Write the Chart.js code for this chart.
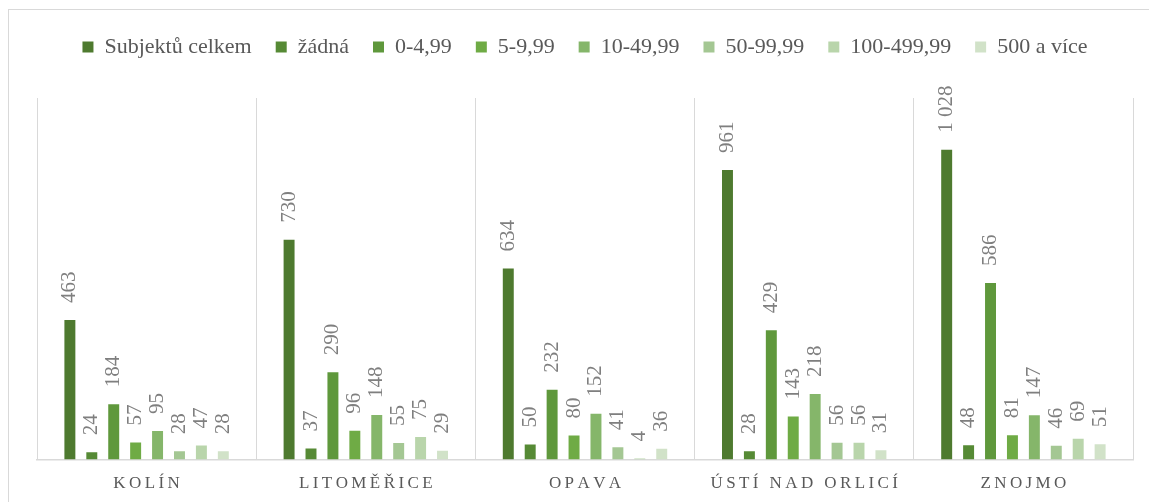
<!DOCTYPE html>
<html>
<head>
<meta charset="utf-8">
<script src="https://cdn.jsdelivr.net/npm/chart.js@4"></script>
<style>
  html, body { margin: 0; padding: 0; background: #fff; }
  #wrap { width: 1149px; height: 502px; }
</style>
</head>
<body>
<div id="wrap"><canvas id="chart" width="1149" height="502"></canvas></div>
<script>
const categories = ['KOLÍN', 'LITOMĚŘICE', 'OPAVA', 'ÚSTÍ NAD ORLICÍ', 'ZNOJMO'];

const seriesNames = ['Subjektů celkem', 'žádná', '0-4,99', '5-9,99', '10-49,99', '50-99,99', '100-499,99', '500 a více'];

const subjektyCelkem = [463, 730, 634, 961, 1028];
const zadna = [24, 37, 50, 28, 48];
const s0to5 = [184, 290, 232, 429, 586];
const s5to10 = [57, 96, 80, 143, 81];
const s10to50 = [95, 148, 152, 218, 147];
const s50to100 = [28, 55, 41, 56, 46];
const s100to500 = [47, 75, 4, 56, 69];
const s500plus = [28, 29, 36, 31, 51];

const seriesValues = [subjektyCelkem, zadna, s0to5, s5to10, s10to50, s50to100, s100to500, s500plus];
const colors = ['#4e7a2f', '#568a35', '#5f983c', '#6fab45', '#85b66a', '#a4c793', '#b9d5ab', '#d1e2c8'];

const serif = '"Liberation Serif", "Times New Roman", serif';

// space as thousands separator, e.g. 1 028
function fmt(v) {
    return String(v).replace(/\B(?=(\d{3})+(?!\d))/g, ' ');
}

const frame = {
    id: 'frame',
    beforeDraw(chart) {
        const ctx = chart.ctx;
        ctx.save();
        ctx.fillStyle = '#fff';
        ctx.fillRect(0, 0, chart.width, chart.height);
        ctx.strokeStyle = '#d9d9d9';
        ctx.lineWidth = 1;
        ctx.strokeRect(8.5, 9.5, chart.width, chart.height);
        ctx.restore();
    }
};

const valueLabels = {
    id: 'valueLabels',
    afterDatasetsDraw(chart) {
        const ctx = chart.ctx;
        ctx.save();
        ctx.font = '21px ' + serif;
        ctx.fillStyle = '#7f7f7f';
        ctx.textAlign = 'left';
        ctx.textBaseline = 'middle';
        chart.data.datasets.forEach((ds, i) => {
            chart.getDatasetMeta(i).data.forEach((bar, j) => {
                ctx.save();
                ctx.translate(bar.x, bar.y - 17);
                ctx.rotate(-Math.PI / 2);
                ctx.fillText(fmt(ds.data[j]), 0, 0);
                ctx.restore();
            });
        });
        ctx.restore();
    }
};

const legendSpace = {
    id: 'legendSpace',
    beforeInit(chart) {
        const fit = chart.legend.fit;
        chart.legend.fit = function () {
            fit.bind(chart.legend)();
            this.height += 30;
        };
    }
};

new Chart(document.getElementById('chart').getContext('2d'), {
    type: 'bar',
    data: {
        labels: categories,
        datasets: seriesNames.map((name, i) => ({
            label: name,
            data: seriesValues[i],
            backgroundColor: colors[i],
            categoryPercentage: 0.8,
            barPercentage: 0.5
        }))
    },
    plugins: [frame, valueLabels, legendSpace],
    options: {
        responsive: false,
        animation: false,
        layout: {
            padding: {left: 37, right: 16, top: 12, bottom: -6}
        },
        plugins: {
            tooltip: {enabled: false},
            legend: {
                position: 'top',
                labels: {
                    boxWidth: 11,
                    boxHeight: 11,
                    padding: 24,
                    color: '#595959',
                    font: {family: serif, size: 22}
                }
            }
        },
        scales: {
            x: {
                grid: {
                    offset: true,
                    color: '#d9d9d9',
                    drawTicks: false
                },
                border: {color: '#d9d9d9', width: 1.5},
                ticks: {
                    color: '#595959',
                    padding: 14,
                    font: {family: serif, size: 17},
                    callback: function (value) {
                        return this.getLabelForValue(value).split('').join('\u2009');
                    }
                }
            },
            y: {
                display: false,
                min: 0,
                max: 1200
            }
        }
    }
});
</script>
</body>
</html>
